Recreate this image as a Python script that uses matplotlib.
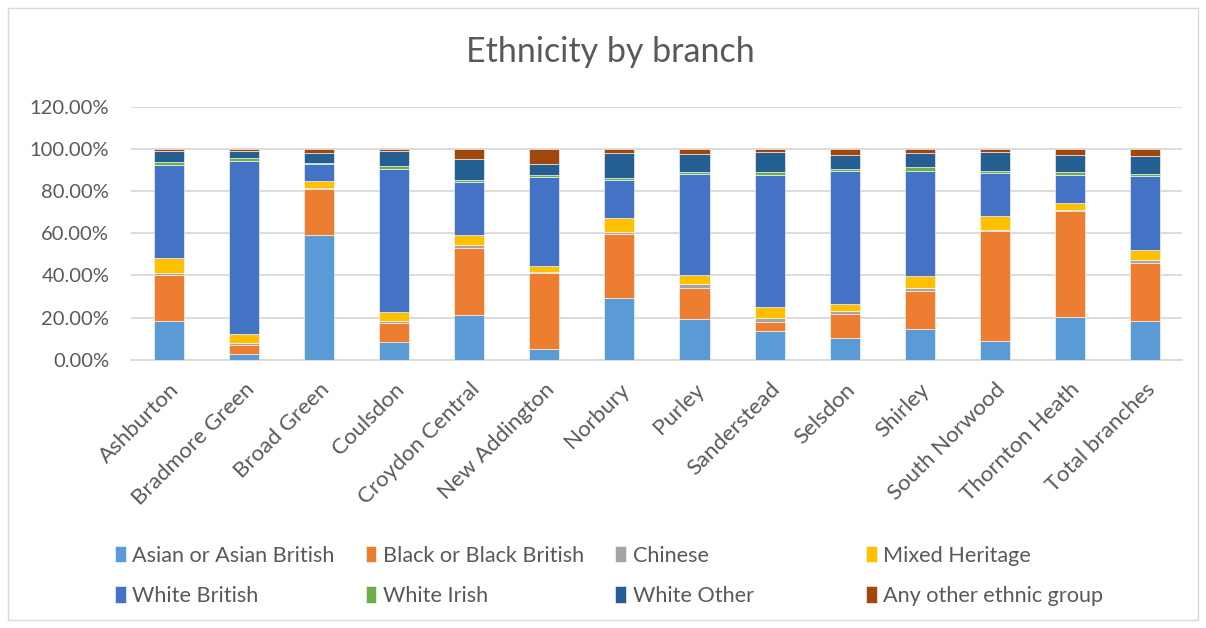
import numpy as np
import matplotlib.pyplot as plt
from matplotlib.patches import Rectangle
from matplotlib.ticker import FuncFormatter

branches = ["Ashburton", "Bradmore Green", "Broad Green", "Coulsdon", "Croydon Central",
            "New Addington", "Norbury", "Purley", "Sanderstead", "Selsdon", "Shirley",
            "South Norwood", "Thornton Heath", "Total branches"]

# share of members in each group, per branch (%)
asian = [18.2, 2.9, 59.3, 8.6, 21.1, 5.1, 29.2, 19.3, 13.6, 10.5, 14.6, 9.0, 20.1, 18.5]
black = [22.2, 4.2, 21.5, 9.0, 32.1, 35.9, 30.4, 14.8, 4.5, 11.4, 18.2, 51.9, 50.4, 27.5]
chinese = [0.8, 0.7, 0.8, 0.9, 1.2, 0.5, 0.9, 1.9, 1.6, 1.2, 1.3, 0.9, 0.7, 1.2]
mixed = [7.3, 4.6, 3.0, 4.3, 4.7, 3.2, 6.9, 4.3, 5.5, 3.5, 5.8, 6.5, 3.4, 4.8]
white_british = [44.1, 81.7, 8.1, 67.8, 25.1, 41.8, 18.0, 48.0, 62.3, 62.9, 49.8, 20.4, 13.2, 35.3]
white_irish = [1.4, 1.6, 0.5, 1.3, 0.9, 1.0, 0.8, 0.9, 1.4, 1.0, 1.6, 1.0, 1.1, 1.0]
white_other = [5.0, 3.2, 4.7, 7.1, 10.0, 5.5, 11.7, 8.3, 9.5, 6.6, 6.8, 9.0, 8.1, 8.2]
other = [1.0, 1.1, 2.1, 1.0, 4.9, 7.0, 2.1, 2.5, 1.6, 2.9, 1.9, 1.3, 3.0, 3.5]

groups = ["Asian or Asian British", "Black or Black British", "Chinese", "Mixed Heritage",
          "White British", "White Irish", "White Other", "Any other ethnic group"]
series = [asian, black, chinese, mixed, white_british, white_irish, white_other, other]
colors = ["#5B9BD5", "#ED7D31", "#A5A5A5", "#FFC000",
          "#4472C4", "#70AD47", "#255E91", "#9E480E"]

plt.rcParams['font.family'] = ['Lato', 'DejaVu Sans']
txt = "#595959"

fig = plt.figure(figsize=(12.06, 6.28), dpi=100)
ax = fig.add_axes([0.109, 0.427, 0.8715, 0.403])

x = np.arange(len(branches))
bottom = np.zeros(len(branches))
handles = []
for vals, col, name in zip(series, colors, groups):
    v = np.array(vals) / 100
    b = ax.bar(x, v, 0.4, bottom=bottom, color=col, label=name,
               edgecolor="white", linewidth=0.4, zorder=3)
    handles.append(b)
    bottom += v

ax.set_xlim(-0.5, len(branches) - 0.5)
ax.set_ylim(0, 1.2)
ax.set_yticks(np.arange(0, 1.21, 0.2))
ax.yaxis.set_major_formatter(FuncFormatter(lambda v, p: f"{v*100:.2f}%"))
ax.grid(axis="y", color="#D9D9D9", linewidth=1.3, zorder=0)
for s in ["top", "right", "left"]:
    ax.spines[s].set_visible(False)
ax.spines["bottom"].set_color("#D9D9D9")
ax.spines["bottom"].set_linewidth(1.3)
ax.tick_params(axis="both", length=0, colors=txt)
ax.tick_params(axis="y", labelsize=14.5, pad=16)
ax.tick_params(axis="x", labelsize=16, pad=14)
ax.set_xticks(x)
ax.set_xticklabels(branches, rotation=45, ha="right", rotation_mode="anchor")

fig.text(0.506, 0.917, "Ethnicity by branch", ha="center", va="center",
         fontsize=24.5, color=txt)

# legend laid out in four evenly spaced columns
col_x = [0.088, 0.296, 0.503, 0.711]
for j in range(4):
    leg = fig.legend([handles[j], handles[j + 4]], [groups[j], groups[j + 4]],
                     loc="upper left", bbox_to_anchor=(col_x[j], 0.145),
                     frameon=False, fontsize=15.6, handlelength=0.5, handleheight=0.8,
                     handletextpad=0.3, labelspacing=0.95, borderaxespad=0)
    for t in leg.get_texts():
        t.set_color(txt)

fig.patches.append(Rectangle((0.007, 0.012), 0.986, 0.975, transform=fig.transFigure,
                             fill=False, edgecolor="#D9D9D9", linewidth=1))

fig.savefig("out.png", dpi=100)
